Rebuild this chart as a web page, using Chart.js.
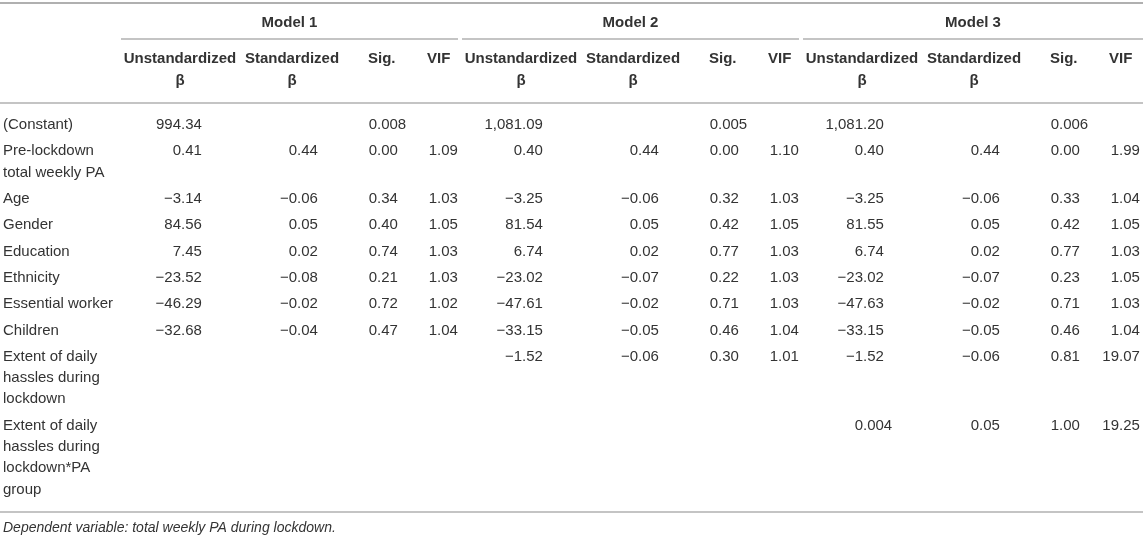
<!DOCTYPE html>
<html>
<head>
<meta charset="utf-8">
<script src="https://cdn.jsdelivr.net/npm/chart.js@4.4.1/dist/chart.umd.min.js"></script>
<style>
    html, body { margin: 0; padding: 0; background: #fff; }
    #box { width: 1143px; height: 538px; position: relative; }
</style>
</head>
<body>
<div id="box"><canvas id="tabela"></canvas></div>
<script>
// Row labels (one entry per line of the wrapped label)
var rowLabels = [
    ["(Constant)"],
    ["Pre-lockdown", "total weekly PA"],
    ["Age"],
    ["Gender"],
    ["Education"],
    ["Ethnicity"],
    ["Essential worker"],
    ["Children"],
    ["Extent of daily", "hassles during", "lockdown"],
    ["Extent of daily", "hassles during", "lockdown*PA", "group"]
];

var modelNames = ["Model 1", "Model 2", "Model 3"];
var colHeaders = [["Unstandardized", "β"], ["Standardized", "β"], ["Sig."], ["VIF"]];
var footnote = "Dependent variable: total weekly PA during lockdown.";

// Model 1
var m1Unstd = ["994.34", "0.41", "−3.14", "84.56", "7.45", "−23.52", "−46.29", "−32.68", "", ""];
var m1Std   = ["", "0.44", "−0.06", "0.05", "0.02", "−0.08", "−0.02", "−0.04", "", ""];
var m1Sig   = ["0.008", "0.00", "0.34", "0.40", "0.74", "0.21", "0.72", "0.47", "", ""];
var m1Vif   = ["", "1.09", "1.03", "1.05", "1.03", "1.03", "1.02", "1.04", "", ""];

// Model 2
var m2Unstd = ["1,081.09", "0.40", "−3.25", "81.54", "6.74", "−23.02", "−47.61", "−33.15", "−1.52", ""];
var m2Std   = ["", "0.44", "−0.06", "0.05", "0.02", "−0.07", "−0.02", "−0.05", "−0.06", ""];
var m2Sig   = ["0.005", "0.00", "0.32", "0.42", "0.77", "0.22", "0.71", "0.46", "0.30", ""];
var m2Vif   = ["", "1.10", "1.03", "1.05", "1.03", "1.03", "1.03", "1.04", "1.01", ""];

// Model 3
var m3Unstd = ["1,081.20", "0.40", "−3.25", "81.55", "6.74", "−23.02", "−47.63", "−33.15", "−1.52", "0.004"];
var m3Std   = ["", "0.44", "−0.06", "0.05", "0.02", "−0.07", "−0.02", "−0.05", "−0.06", "0.05"];
var m3Sig   = ["0.006", "0.00", "0.33", "0.42", "0.77", "0.23", "0.71", "0.46", "0.81", "1.00"];
var m3Vif   = ["", "1.99", "1.04", "1.05", "1.03", "1.05", "1.03", "1.04", "19.07", "19.25"];

var modelCols = [
    [m1Unstd, m1Std, m1Sig, m1Vif],
    [m2Unstd, m2Std, m2Sig, m2Vif],
    [m3Unstd, m3Std, m3Sig, m3Vif]
];

// Layout (in scale units, same as page pixels)
var W = 1143, H = 538;
var blockStart = [121, 462, 803];
var blockEnd = [458, 799, 1143];
var decimalAt = [60, 176, 256, 316];     // where the decimal point of each column sits
var headAlign = [["center", 59], ["center", 171], ["left", 247], ["left", 306]];
var firstRowY = 125, rowGap = 26.3, lineGap = 21.3;
var textColor = "#333";
var ruleColor = "#b0b0b0";
var fontFam = "'Liberation Sans', Arial, Helvetica, sans-serif";

// y of every row (first line)
var rowY = [];
var y = firstRowY;
for (let i = 0; i < rowLabels.length; i++) {
    rowY.push(y);
    y += (rowLabels[i].length - 1) * lineGap + rowGap;
}

// One dataset per column; points carry the cell text
var datasets = [];
datasets.push({
    label: "labels",
    data: rowLabels.map(function(l, i) { return { x: 3, y: rowY[i], lines: l }; }),
    kind: "label"
});
for (let m = 0; m < modelCols.length; m++) {
    for (let c = 0; c < 4; c++) {
        let col = modelCols[m][c];
        let pts = [];
        for (let i = 0; i < col.length; i++) {
            if (col[i] !== "") {
                pts.push({ x: blockStart[m] + decimalAt[c], y: rowY[i], text: col[i] });
            }
        }
        datasets.push({ label: modelNames[m] + " " + colHeaders[c][0], data: pts, kind: "num" });
    }
}
datasets.forEach(function(d) { d.pointRadius = 0; d.pointHoverRadius = 0; d.showLine = false; });

// Plugin that draws the rules, headers and the cell texts
var tablePlugin = {
    id: "tablePlugin",
    afterDatasetsDraw: function(chart) {
        var ctx = chart.ctx;
        var sx = chart.scales.x, sy = chart.scales.y;
        var px = function(v) { return sx.getPixelForValue(v); };
        var py = function(v) { return sy.getPixelForValue(v); };

        ctx.save();

        // rules
        function rule(x0, x1, yy, w) {
            ctx.beginPath();
            ctx.strokeStyle = ruleColor;
            ctx.lineWidth = w;
            ctx.moveTo(px(x0), py(yy));
            ctx.lineTo(px(x1), py(yy));
            ctx.stroke();
        }
        rule(0, W, 3, 2);
        for (let m = 0; m < 3; m++) rule(blockStart[m], blockEnd[m], 39, 1.5);
        rule(0, W, 103, 1.5);
        rule(0, W, 512, 1.5);

        ctx.fillStyle = textColor;
        ctx.textBaseline = "middle";

        // header
        ctx.font = "bold 15px " + fontFam;
        for (let m = 0; m < 3; m++) {
            ctx.textAlign = "center";
            ctx.fillText(modelNames[m], px((blockStart[m] + blockEnd[m]) / 2), py(23));
            for (let c = 0; c < colHeaders.length; c++) {
                ctx.textAlign = headAlign[c][0];
                for (let k = 0; k < colHeaders[c].length; k++) {
                    ctx.fillText(colHeaders[c][k], px(blockStart[m] + headAlign[c][1]), py(59 + k * 22));
                }
            }
        }

        // cells
        ctx.font = "15px " + fontFam;
        ctx.textAlign = "left";
        chart.data.datasets.forEach(function(ds, di) {
            var meta = chart.getDatasetMeta(di);
            meta.data.forEach(function(pt, j) {
                var raw = ds.data[j];
                if (ds.kind === "label") {
                    for (let k = 0; k < raw.lines.length; k++) {
                        ctx.fillText(raw.lines[k], pt.x, pt.y + k * lineGap);
                    }
                } else {
                    var s = raw.text;
                    var dot = s.indexOf(".");
                    var intPart = dot >= 0 ? s.slice(0, dot) : s;
                    ctx.fillText(s, pt.x - ctx.measureText(intPart).width, pt.y);
                }
            });
        });

        // footnote
        ctx.font = "italic 14px " + fontFam;
        ctx.fillText(footnote, px(3), py(528));

        ctx.restore();
    }
};

new Chart("tabela", {
    type: "scatter",
    data: { datasets: datasets },
    options: {
        responsive: true,
        maintainAspectRatio: false,
        animation: false,
        events: [],
        layout: { padding: 0 },
        plugins: { legend: { display: false }, tooltip: { enabled: false } },
        scales: {
            x: { type: "linear", min: 0, max: W, display: false },
            y: { type: "linear", min: 0, max: H, reverse: true, display: false }
        }
    },
    plugins: [tablePlugin]
});
</script>
</body>
</html>
